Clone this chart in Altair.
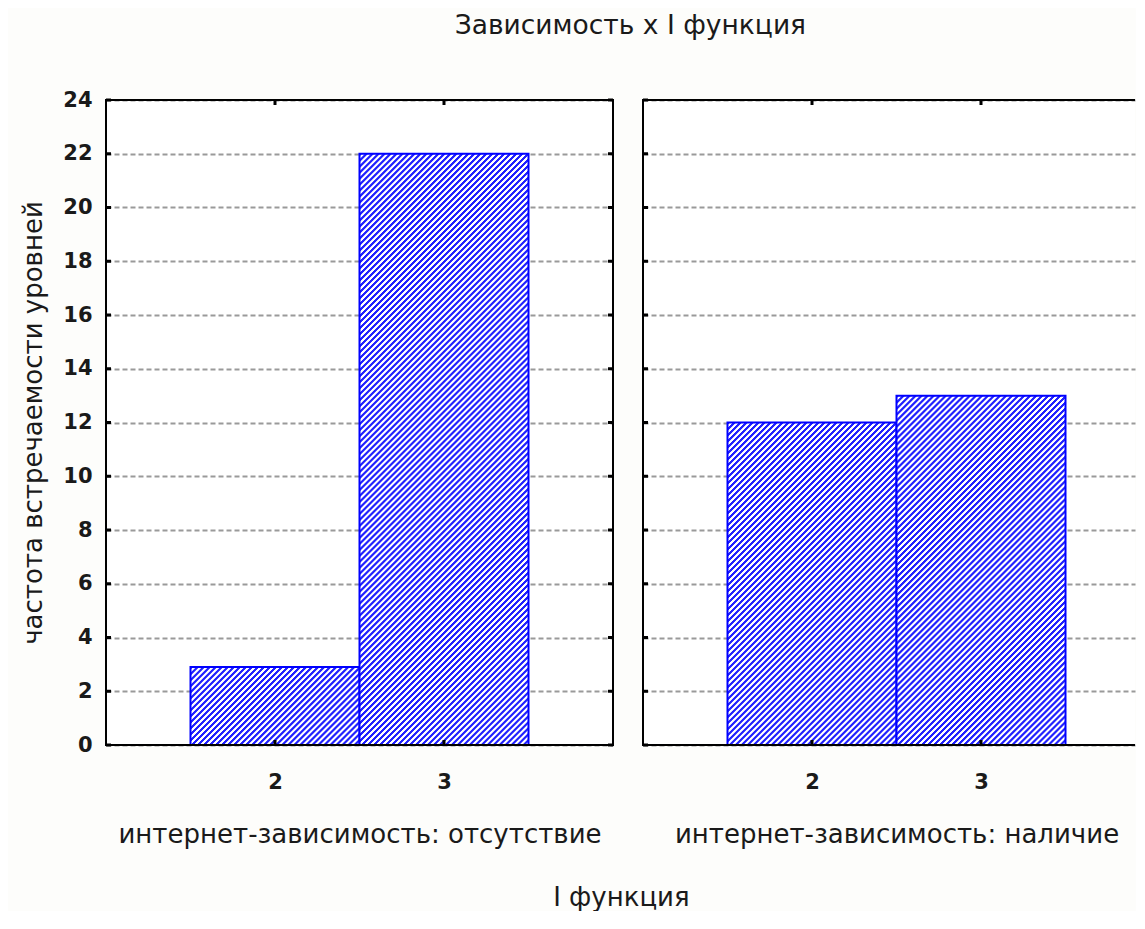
import altair as alt
import pandas as pd

# ---- data ----
levels = [2, 3]
counts_absent = [2.9, 22]      # интернет-зависимость: отсутствие
counts_present = [12, 13]      # интернет-зависимость: наличие
panel_titles = ["интернет-зависимость: отсутствие", "интернет-зависимость: наличие"]
y_ticks = [0, 2, 4, 6, 8, 10, 12, 14, 16, 18, 20, 22, 24]
x_ticks = [2, 3]

main_title = "Зависимость x I функция"
x_common_title = "I функция"
y_title = "частота встречаемости уровней"

# ---- style ----
W, H = 507, 645          # full panel size
W_RIGHT = 492            # right panel is cut by the picture edge
Y_MAX = 24
UNIT = W / 3.0           # pixels per x unit
FONT = "DejaVu Sans"
BLUE = "#2222ff"
WHITE = "#ffffff"
TXT = "#1a1a1a"
PITCH = 6.0


def hatch(value):
    """diagonal '/' hatch as a linear gradient (slightly softened edges) for one bar"""
    w = UNIT
    h = max(value * H / Y_MAX, 1.0)
    n = max(1, round((w + h) / PITCH))
    t = (w + h) / (w * w + h * h)
    stops = []
    for i in range(n):
        stops += [
            {"offset": round(i / n, 6), "color": BLUE},
            {"offset": round((i + 0.36) / n, 6), "color": BLUE},
            {"offset": round((i + 0.52) / n, 6), "color": WHITE},
            {"offset": round((i + 0.86) / n, 6), "color": WHITE},
        ]
    stops.append({"offset": 1, "color": BLUE})
    return {"gradient": "linear", "x1": 0, "y1": 0, "x2": t * w, "y2": t * h, "stops": stops}


def panel(counts, title, show_y, pw, right_edge):
    x_dom = [1, 1 + pw / UNIT]
    layers = []
    for lvl, cnt in zip(levels, counts):
        df = pd.DataFrame({"level": [lvl], "count": [cnt]})
        bar = (
            alt.Chart(df)
            .transform_calculate(lo="datum.level - 0.5", hi="datum.level + 0.5")
            .mark_rect(fill=hatch(cnt), stroke="#0000ff", strokeWidth=2)
            .encode(
                x=alt.X(
                    "lo:Q",
                    scale=alt.Scale(domain=x_dom, nice=False, zero=False),
                    axis=alt.Axis(
                        values=x_ticks, title=title, grid=False, ticks=False, domain=False,
                        labelPadding=26, labelFontSize=21, labelFontWeight="bold",
                        titleFontSize=26, titleFontWeight="normal", titlePadding=29,
                        labelColor=TXT, titleColor=TXT, format="d",
                        titleX=W / 2,
                    ),
                ),
                x2="hi:Q",
                y=alt.Y(
                    "count:Q",
                    scale=alt.Scale(domain=[0, Y_MAX], nice=False),
                    axis=alt.Axis(
                        values=y_ticks, title=y_title if show_y else None, labels=show_y,
                        grid=True, gridDash=[5, 3], gridColor="#9a9a9a", gridWidth=2,
                        ticks=False, domain=False, labelPadding=14, labelFontSize=21,
                        labelFontWeight="bold", titleFontSize=26, titleFontWeight="normal",
                        titlePadding=16, labelColor=TXT, titleColor=TXT, minExtent=0,
                    ),
                ),
                y2=alt.datum(0),
            )
        )
        layers.append(bar)

    ydf = pd.DataFrame({"v": y_ticks})
    xdf = pd.DataFrame({"v": x_ticks})
    one = pd.DataFrame({"k": [0]})
    tick_l = alt.Chart(ydf).mark_rule(color="black", strokeWidth=3).encode(
        y="v:Q", x=alt.value(0), x2=alt.value(5))
    tick_t = alt.Chart(xdf).mark_rule(color="black", strokeWidth=3).encode(
        x="v:Q", y=alt.value(0), y2=alt.value(5))
    tick_b = alt.Chart(xdf).mark_rule(color="black", strokeWidth=3).encode(
        x="v:Q", y=alt.value(H - 5), y2=alt.value(H))
    frame_kw = dict(color="black", strokeWidth=2)
    f_top = alt.Chart(one).mark_rule(**frame_kw).encode(
        x=alt.value(-1), x2=alt.value(pw), y=alt.value(0))
    f_bot = alt.Chart(one).mark_rule(**frame_kw).encode(
        x=alt.value(-1), x2=alt.value(pw), y=alt.value(H))
    f_left = alt.Chart(one).mark_rule(**frame_kw).encode(
        x=alt.value(0), y=alt.value(-1), y2=alt.value(H + 1))
    extra = [tick_l, tick_t, tick_b, f_top, f_bot, f_left]
    if right_edge:
        tick_r = alt.Chart(ydf).mark_rule(color="black", strokeWidth=3).encode(
            y="v:Q", x=alt.value(pw - 5), x2=alt.value(pw))
        f_right = alt.Chart(one).mark_rule(**frame_kw).encode(
            x=alt.value(pw), y=alt.value(-1), y2=alt.value(H + 1))
        extra += [tick_r, f_right]
    return alt.layer(*layers, *extra).properties(width=pw, height=H)


left = panel(counts_absent, panel_titles[0], True, W, True)
right = panel(counts_present, panel_titles[1], False, W_RIGHT, False)

row = alt.hconcat(left, right, spacing=26).properties(
    title=alt.TitleParams(x_common_title, orient="bottom", fontSize=26, fontWeight="normal",
                          font=FONT, color=TXT, offset=38, anchor="middle", dx=43)
)

chart = (
    alt.vconcat(row)
    .properties(
        title=alt.TitleParams(main_title, fontSize=26.5, fontWeight="normal", font=FONT,
                              color=TXT, offset=50, anchor="middle", dx=52),
        padding={"left": 12, "top": 4, "right": 0, "bottom": 0},
        background="#fdfdfb",
    )
    .configure_view(stroke="transparent", strokeWidth=0, fill="white")
    .configure_axis(labelFont=FONT, titleFont=FONT)
    .configure_text(font=FONT)
)

chart.save("out.html", embed_options={"renderer": "svg", "actions": False})
